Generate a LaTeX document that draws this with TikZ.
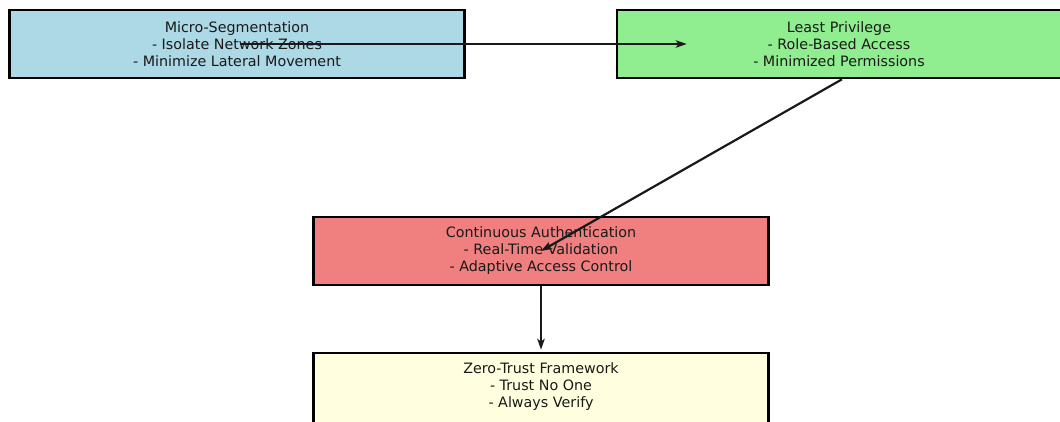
\documentclass[tikz,border=0pt]{standalone}
\usepackage{fontspec}
\setmainfont{DejaVu Sans}
\usetikzlibrary{arrows.meta,calc}
\definecolor{lblue}{HTML}{ADD8E6}
\definecolor{lgreen}{HTML}{90EE90}
\definecolor{lcoral}{HTML}{F08080}
\definecolor{lyellow}{HTML}{FFFFE0}
\begin{document}
\begin{tikzpicture}[x=1pt,y=-1pt,
  txt/.style={align=center,inner sep=0pt,font=\fontsize{14.3pt}{17pt}\selectfont,text=black!90},
  box/.style={txt,draw=black,line width=2.6pt,rectangle,minimum width=455pt,minimum height=68pt},
  conn/.style={-{Stealth[length=11pt,width=7.5pt,inset=3pt]},line width=2.2pt,black!90}]
\useasboundingbox[fill=white] (0,0) rectangle (1060,421);
\node[box,fill=lblue] (micro) at (237,44) {Micro-Segmentation\\- Isolate Network Zones\\- Minimize Lateral Movement};
\node[box,fill=lgreen,minimum width=450pt] (least) at (842,44) {};
\node[txt] (leasttext) at (839,44) {Least Privilege\\- Role-Based Access\\- Minimized Permissions};
\node[box,fill=lcoral] (cont) at (541,251) {Continuous Authentication\\- Real-Time Validation\\- Adaptive Access Control};
\node[box,fill=lyellow,minimum height=80pt] (zero) at (541,393) {};
\node[txt] (zerotext) at (541,387) {Zero-Trust Framework\\- Trust No One\\- Always Verify};
\draw[conn] ([xshift=3pt]micro.center) -- ([xshift=71pt]least.west);
\draw[conn] (least.south) -- (cont.center);
\draw[conn,shorten >=2pt] (cont.south) -- (zero.north);
\end{tikzpicture}
\end{document}
